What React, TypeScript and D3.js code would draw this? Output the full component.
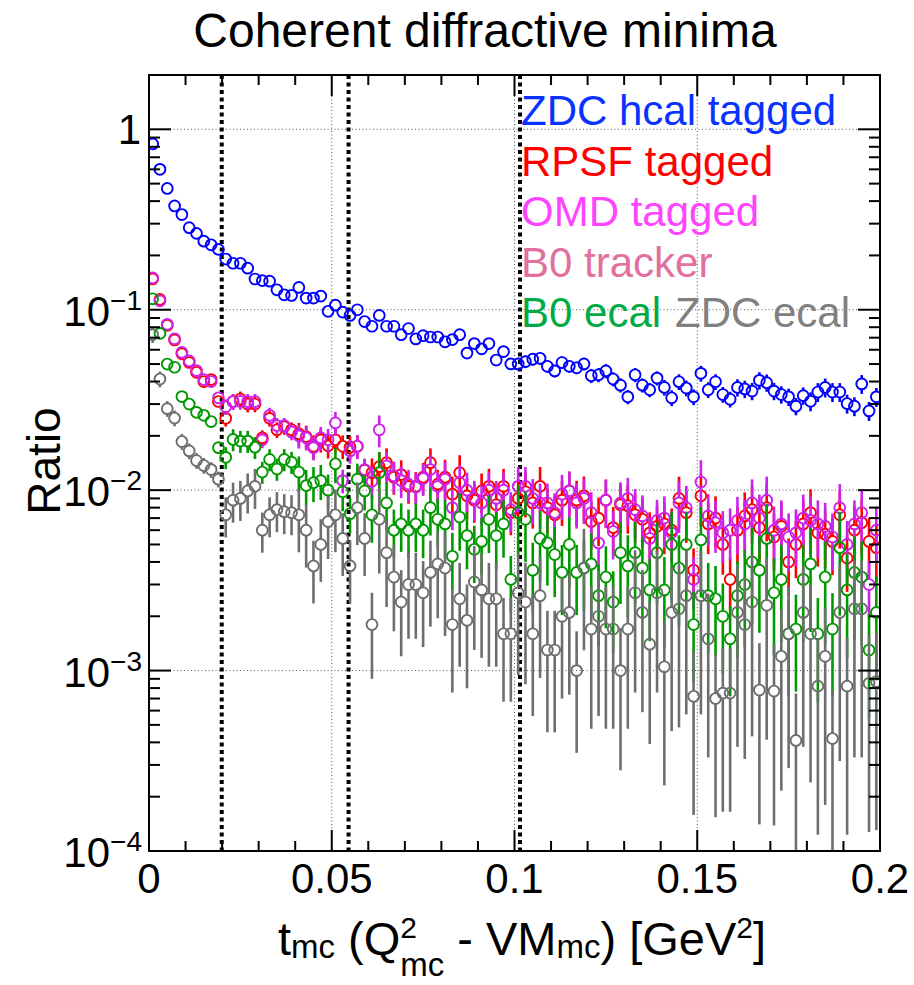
import React from "react";
import * as d3 from "d3";

// Histogram binning (100 bins over 0..0.2 GeV^2)
const BIN_LO = 0;
const BIN_HI = 0.2;
const N_BINS = 100;

const Y_MIN = 1e-4;
const Y_MAX = 2;

// Series values per bin
const zdcHcal = [
  0.83, 0.60, 0.47, 0.376, 0.337, 0.285, 0.265, 0.240, 0.229, 0.216,
  0.191, 0.181, 0.181, 0.170, 0.148, 0.145, 0.144, 0.129, 0.121, 0.120,
  0.133, 0.116, 0.116, 0.119, 0.098, 0.106, 0.097, 0.093, 0.100, 0.086,
  0.081, 0.093, 0.081, 0.081, 0.0727, 0.0787, 0.0689, 0.0718, 0.0706, 0.0706,
  0.0664, 0.0683, 0.0727, 0.0575, 0.0649, 0.0607, 0.0649, 0.0526, 0.0586, 0.0501,
  0.0501, 0.0516, 0.0532, 0.0538, 0.0486, 0.0458, 0.0510, 0.0486, 0.0477, 0.0501,
  0.0431, 0.0436, 0.0458, 0.0413, 0.0382, 0.0329, 0.0436, 0.0382, 0.0360, 0.0418,
  0.0371, 0.0325, 0.0399, 0.0368, 0.0329, 0.0444, 0.0360, 0.0399, 0.0339, 0.0319,
  0.0371, 0.0364, 0.0354, 0.0406, 0.0394, 0.0354, 0.0339, 0.0329, 0.0292, 0.0334,
  0.0311, 0.0350, 0.0371, 0.0350, 0.0350, 0.0302, 0.0292, 0.0388, 0.0275, 0.0329,
];

const rpsf = [
  0.148, 0.114, 0.082, 0.068, 0.057, 0.051, 0.045, 0.040, 0.041, 0.031,
  0.025, 0.031, 0.032, 0.030, 0.030, 0.0195, 0.025, 0.0216, 0.0225, 0.0216,
  0.0205, 0.0198, 0.0175, 0.019, 0.0176, 0.019, 0.0175, 0.0173, 0.0175, 0.0129,
  0.0125, 0.0135, 0.0142, 0.0118, 0.0122, 0.0105, 0.0105, 0.0118, 0.0142, 0.0108,
  0.0118, 0.0095, 0.0125, 0.0093, 0.0088, 0.0099, 0.0105, 0.0083, 0.0105, 0.0075,
  0.0090, 0.0098, 0.0085, 0.0105, 0.0080, 0.0073, 0.0088, 0.0099, 0.0088, 0.0093,
  0.0067, 0.0070, 0.0088, 0.0062, 0.0083, 0.0082, 0.0073, 0.0069, 0.0058, 0.0063,
  0.0065, 0.0060, 0.0090, 0.0075, 0.0036, 0.0093, 0.0065, 0.0070, 0.0050, 0.0032,
  0.0060, 0.0072, 0.0078, 0.0062, 0.0080, 0.0055, 0.0063, 0.0040, 0.0050, 0.0065,
  0.0075, 0.0058, 0.0057, 0.0052, 0.0073, 0.0042, 0.0060, 0.0066, 0.0052, 0.0048,
];

const omd = [
  0.150, 0.112, 0.083, 0.069, 0.058, 0.052, 0.046, 0.041, 0.040, 0.0325,
  0.029, 0.031, 0.031, 0.031, 0.031, 0.019, 0.026, 0.0228, 0.0228, 0.021,
  0.020, 0.0195, 0.0172, 0.0195, 0.019, 0.0236, 0.0113, 0.0165, 0.0175, 0.013,
  0.0112, 0.0216, 0.0136, 0.012, 0.0113, 0.0108, 0.0104, 0.0116, 0.0130, 0.0105,
  0.0115, 0.0080, 0.0110, 0.0100, 0.0090, 0.0085, 0.0100, 0.0090, 0.0100, 0.0078,
  0.0105, 0.0105, 0.0090, 0.0085, 0.0085, 0.0075, 0.0095, 0.0099, 0.0085, 0.0090,
  0.0075, 0.0051, 0.0088, 0.0059, 0.0085, 0.0090, 0.0078, 0.0072, 0.0054, 0.0068,
  0.0070, 0.0058, 0.0085, 0.0080, 0.0032, 0.0111, 0.0072, 0.0066, 0.0058, 0.0060,
  0.0068, 0.0065, 0.0085, 0.0070, 0.0088, 0.0060, 0.0065, 0.0055, 0.0058, 0.0070,
  0.0068, 0.0065, 0.0063, 0.0055, 0.0080, 0.0050, 0.0065, 0.0075, 0.0030, 0.0060,
];

const b0ecal = [
  0.115, 0.074, 0.050, 0.048, 0.033, 0.030, 0.027, 0.026, 0.024, 0.0172,
  0.0152, 0.0191, 0.0187, 0.0187, 0.0173, 0.0126, 0.0148, 0.0131, 0.0148, 0.0143,
  0.0126, 0.0106, 0.0110, 0.0113, 0.0100, 0.0140, 0.0098, 0.0074, 0.0115, 0.0099,
  0.0073, 0.0125, 0.0085, 0.0060, 0.0065, 0.0060, 0.0065, 0.0060, 0.0080, 0.0069,
  0.0065, 0.0043, 0.0071, 0.0056, 0.0047, 0.0052, 0.0069, 0.0056, 0.0065, 0.0032,
  0.0075, 0.0069, 0.0036, 0.0054, 0.0051, 0.0044, 0.0035, 0.0050, 0.0035, 0.0037,
  0.0039, 0.0026, 0.0033, 0.0024, 0.0045, 0.0038, 0.0045, 0.0037, 0.0028, 0.0045,
  0.0028, 0.0050, 0.0037, 0.0050, 0.0018, 0.0053, 0.0026, 0.0025, 0.0020, 0.0015,
  0.0026, 0.0030, 0.0040, 0.0036, 0.0054, 0.0027, 0.0032, 0.0016, 0.0017, 0.0032,
  0.0039, 0.0016, 0.0033, 0.0017, 0.0048, 0.0028, 0.0035, 0.0033, 0.0013, 0.0021,
];

const zdcEcal = [
  0.0728, 0.0413, 0.0283, 0.0251, 0.0186, 0.0165, 0.0146, 0.0137, 0.0130, 0.0115,
  0.0073, 0.0088, 0.0090, 0.0099, 0.0105, 0.0060, 0.0073, 0.0078, 0.0076, 0.0075,
  0.0073, 0.0060, 0.0038, 0.0050, 0.0067, 0.0073, 0.0054, 0.0038, 0.0080, 0.0054,
  0.0018, 0.0069, 0.0045, 0.0033, 0.0024, 0.0030, 0.0030, 0.0027, 0.0035, 0.0039,
  0.0037, 0.0018, 0.0025, 0.0019, 0.0031, 0.0028, 0.0025, 0.0025, 0.0016, 0.0016,
  0.0027, 0.0024, 0.0016, 0.0026, 0.0013, 0.0013, 0.0020, 0.0021, 0.0010, 0.0037,
  0.0017, 0.0020, 0.0017, 0.0017, 0.0010, 0.0017, 0.0027, 0.0021, 0.0014, 0.0027,
  0.00105, 0.0021, 0.0022, 0.0026, 0.00072, 0.0026, 0.0015, 0.0007, 0.00075, 0.00075,
  0.0021, 0.0018, 0.0024, 0.00078, 0.0023, 0.00077, 0.0012, 0.0016, 0.00041, 0.0021,
  0.0016, 0.00082, 0.0012, 0.00042, 0.0021, 0.00082, 0.0022, 0.0022, 0.00085, 0.00087,
];

// Relative errors read per 10-bin group
const relErrZdcHcal = [0.02, 0.03, 0.04, 0.05, 0.06, 0.08, 0.09, 0.10, 0.11, 0.12];
const relErrRpsf = [0.04, 0.10, 0.15, 0.20, 0.25, 0.28, 0.30, 0.32, 0.35, 0.35];
const relErrOmd = [0.04, 0.10, 0.15, 0.20, 0.25, 0.28, 0.30, 0.32, 0.35, 0.35];
const relErrB0ecal = [0.05, 0.14, 0.22, 0.30, 0.35, 0.42, 0.48, 0.52, 0.55, 0.58];
const relErrZdcEcal = [0.10, 0.25, 0.38, 0.50, 0.58, 0.65, 0.72, 0.78, 0.82, 0.85];

// Diffractive minima positions
const minimaT = [0.0199, 0.0546, 0.1015];

const xMajorTicks = [0, 0.05, 0.1, 0.15, 0.2];
const xTickLabels = ["0", "0.05", "0.1", "0.15", "0.2"];
const yDecadeExps = [-4, -3, -2, -1, 0];

const legendRows = [
  [{ label: "ZDC hcal tagged", color: "#0a32ff" }],
  [{ label: "RPSF tagged", color: "#ff0000" }],
  [{ label: "OMD tagged", color: "#ff44ff" }],
  [{ label: "B0 tracker", color: "#e2709e" }],
  [
    { label: "B0 ecal", color: "#00aa44" },
    { label: "ZDC ecal", color: "#808080" },
  ],
];

const seriesList = [
  { values: zdcHcal, rel: relErrZdcHcal, color: "#0000ff" },
  { values: rpsf, rel: relErrRpsf, color: "#ff0000" },
  { values: omd, rel: relErrOmd, color: "#cc22ee" },
  { values: b0ecal, rel: relErrB0ecal, color: "#009900" },
  { values: zdcEcal, rel: relErrZdcEcal, color: "#6e6e6e" },
];

const W = 914;
const H = 985;
const L = 149;
const R = 880;
const T = 75;
const B = 851;
const FONT = "'Liberation Sans', Arial, Helvetica, sans-serif";

export default function App() {
  const x = d3.scaleLinear().domain([BIN_LO, BIN_HI]).range([L, R]);
  const y = d3.scaleLog().domain([Y_MIN, Y_MAX]).range([B, T]);
  const binW = (BIN_HI - BIN_LO) / N_BINS;
  const centers = d3.range(N_BINS).map((i) => BIN_LO + (i + 0.5) * binW);

  const xMinor = d3
    .range(0, 21)
    .map((k) => k * 0.01)
    .filter((v) => !xMajorTicks.some((m) => Math.abs(m - v) < 1e-9));
  const yMinor: number[] = [];
  for (let e = -4; e <= 0; e++) {
    for (let m = 2; m <= 9; m++) {
      const v = m * Math.pow(10, e);
      if (v < Y_MAX) yMinor.push(v);
    }
  }

  const r = 5.4;

  return (
    <svg
      width={W}
      height={H}
      style={{ position: "absolute", left: 0, top: 0, background: "#fff" }}
      fontFamily={FONT}
    >
      <defs>
        <clipPath id="frame">
          <rect x={L} y={T} width={R - L} height={B - T} />
        </clipPath>
      </defs>
      <rect x={0} y={0} width={W} height={H} fill="#fff" />

      {/* grid */}
      <g stroke="#555" strokeWidth={1} strokeDasharray="1,2.5">
        {[0.05, 0.1, 0.15].map((v) => (
          <line key={"gx" + v} x1={x(v)} x2={x(v)} y1={T} y2={B} />
        ))}
        {[1e-3, 1e-2, 1e-1, 1].map((v) => (
          <line key={"gy" + v} x1={L} x2={R} y1={y(v)} y2={y(v)} />
        ))}
      </g>

      {/* minima lines */}
      <g stroke="#000" strokeWidth={4} strokeDasharray="4,3.5">
        {minimaT.map((t) => (
          <line key={"m" + t} x1={x(t)} x2={x(t)} y1={T} y2={B} />
        ))}
      </g>

      {/* legend text */}
      <g fontSize={42}>
        {legendRows.map((row, ri) => (
          <g key={"lr" + ri}>
            {row.map((it, ii) => (
              <text
                key={it.label}
                x={ii === 0 ? 521 : 675}
                y={125 + ri * 50.5}
                fill={it.color}
              >
                {it.label}
              </text>
            ))}
          </g>
        ))}
      </g>

      {/* data */}
      <g clipPath="url(#frame)">
        {seriesList.map((s, si) => (
          <g key={"s" + si} stroke={s.color} fill="none">
            {s.values.map((v, i) => {
              const cx = x(centers[i]);
              const cy = y(v);
              const e = v * s.rel[Math.floor(i / 10)];
              const up = Math.max(T, y(v + e));
              const lo = v - e > Y_MIN ? y(v - e) : B;
              return (
                <g key={i}>
                  {up < cy - r && (
                    <line x1={cx} x2={cx} y1={cy - r} y2={up} strokeWidth={2.6} />
                  )}
                  {lo > cy + r && (
                    <line x1={cx} x2={cx} y1={cy + r} y2={lo} strokeWidth={2.6} />
                  )}
                  <circle cx={cx} cy={cy} r={r} strokeWidth={1.9} />
                </g>
              );
            })}
          </g>
        ))}
      </g>

      {/* frame */}
      <rect x={L} y={T} width={R - L} height={B - T} fill="none" stroke="#000" strokeWidth={2} />

      {/* ticks */}
      <g stroke="#000" strokeWidth={2}>
        {xMajorTicks.map((v) => (
          <g key={"xt" + v}>
            <line x1={x(v)} x2={x(v)} y1={B} y2={B - 21} />
            <line x1={x(v)} x2={x(v)} y1={T} y2={T + 21} />
          </g>
        ))}
        {xMinor.map((v) => (
          <g key={"xm" + v}>
            <line x1={x(v)} x2={x(v)} y1={B} y2={B - 10} />
            <line x1={x(v)} x2={x(v)} y1={T} y2={T + 10} />
          </g>
        ))}
        {yDecadeExps.map((e) => {
          const yy = y(Math.pow(10, e));
          return (
            <g key={"yt" + e}>
              <line x1={L} x2={L + 22} y1={yy} y2={yy} />
              <line x1={R} x2={R - 22} y1={yy} y2={yy} />
            </g>
          );
        })}
        {yMinor.map((v) => (
          <g key={"ym" + v}>
            <line x1={L} x2={L + 11} y1={y(v)} y2={y(v)} />
            <line x1={R} x2={R - 11} y1={y(v)} y2={y(v)} />
          </g>
        ))}
      </g>

      {/* x tick labels */}
      <g fontSize={42} textAnchor="middle" fill="#000">
        {xMajorTicks.map((v, i) => (
          <text key={"xl" + v} x={x(v)} y={893}>
            {xTickLabels[i]}
          </text>
        ))}
      </g>

      {/* y tick labels */}
      <g fontSize={42} textAnchor="end" fill="#000">
        {yDecadeExps.map((e) => {
          const yy = y(Math.pow(10, e));
          if (e === 0)
            return (
              <text key={"yl" + e} x={141} y={yy + 15}>
                1
              </text>
            );
          return (
            <text key={"yl" + e} x={142} y={yy + 16}>
              10
              <tspan fontSize={28} dy={-16}>
                {"\u2212" + Math.abs(e)}
              </tspan>
            </text>
          );
        })}
      </g>

      {/* titles */}
      <text x={485} y={47} fontSize={48} textAnchor="middle" fill="#000">
        Coherent diffractive minima
      </text>
      <text
        transform="translate(60,461) rotate(-90)"
        fontSize={46}
        textAnchor="middle"
        fill="#000"
      >
        Ratio
      </text>
      <text x={522} y={955} fontSize={47} textAnchor="middle" fill="#000">
        t
        <tspan fontSize={33} dy={3}>mc</tspan>
        <tspan dy={-3}>{" (Q"}</tspan>
        <tspan fontSize={30} dy={-17}>2</tspan>
        <tspan fontSize={33} dx={-16.7} dy={38}>mc</tspan>
        <tspan dy={-21}>{" - VM"}</tspan>
        <tspan fontSize={33} dy={3}>mc</tspan>
        <tspan dy={-3}>{") [GeV"}</tspan>
        <tspan fontSize={30} dy={-17}>2</tspan>
        <tspan dy={17}>]</tspan>
      </text>
    </svg>
  );
}
